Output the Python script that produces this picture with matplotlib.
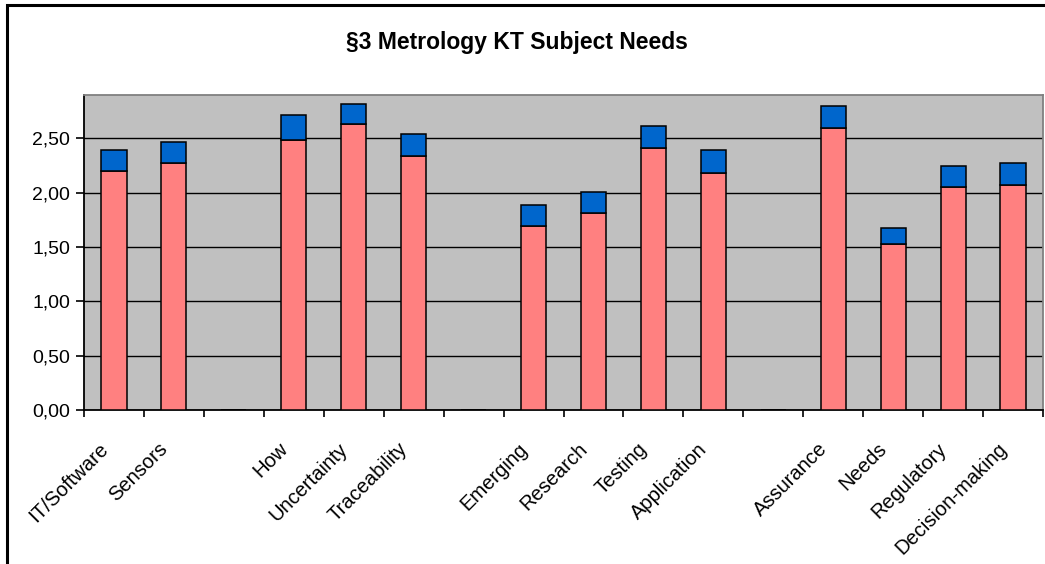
import matplotlib
matplotlib.use("Agg")
import matplotlib.pyplot as plt
import matplotlib.transforms as mtransforms
import numpy as np
from matplotlib.patches import Rectangle
from matplotlib.ticker import FuncFormatter, MultipleLocator

plt.rcParams['font.family'] = ['Liberation Sans', 'DejaVu Sans']

# Categories with empty slots between the subject groups
categories = ['IT/Software', 'Sensors', '',
              'How', 'Uncertainty', 'Traceability', '',
              'Emerging', 'Research', 'Testing', 'Application', '',
              'Assurance', 'Needs', 'Regulatory', 'Decision-making']
base_values = [2.20, 2.27, 0,
               2.49, 2.63, 2.34, 0,
               1.69, 1.81, 2.41, 2.18, 0,
               2.60, 1.53, 2.05, 2.07]
top_values = [0.19, 0.20, 0,
              0.23, 0.19, 0.20, 0,
              0.20, 0.20, 0.20, 0.21, 0,
              0.20, 0.15, 0.20, 0.20]

fig = plt.figure(figsize=(10.45, 5.64), dpi=100)
ax = fig.add_axes([84 / 1045, 1 - 410 / 564, 959 / 1045, 315 / 564])

# Chart frame (left and top edges visible)
fig.patches.append(Rectangle((7 / 1045, -0.1), 1.2, (564 - 5) / 564 + 0.1,
                             transform=fig.transFigure, fill=False,
                             edgecolor='black', linewidth=2.2, zorder=0))

x = np.arange(len(categories))
ax.set_facecolor('#C0C0C0')
ax.bar(x, base_values, width=0.42, color='#FF8080', edgecolor='black', linewidth=1.1, zorder=3)
ax.bar(x, top_values, width=0.42, bottom=base_values, color='#0066CC',
       edgecolor='black', linewidth=1.1, zorder=3)

ax.set_xlim(-0.5, len(categories) - 0.5)
ax.set_ylim(0, 2.9)
ax.yaxis.set_major_locator(MultipleLocator(0.5))
ax.yaxis.set_major_formatter(FuncFormatter(lambda v, p: f'{v:.2f}'.replace('.', ',')))
ax.grid(axis='y', color='black', linewidth=1.0, zorder=1)
ax.set_axisbelow(True)

ax.set_xticks(x)
ax.set_xticklabels(categories, rotation=45, ha='right', va='center',
                   rotation_mode='anchor', fontsize=14.5)
ax.set_xticks(np.arange(len(categories) + 1) - 0.5, minor=True)
ax.tick_params(axis='x', which='major', length=0, pad=26)
ax.tick_params(axis='x', which='minor', length=5, width=1.2, color='black', direction='out')
ax.tick_params(axis='y', length=6, width=1.2, pad=4, labelsize=14)

# nudge the slanted category labels to the left of their slot centres
shift = mtransforms.ScaledTranslation(-9 / 100, 0, fig.dpi_scale_trans)
for lbl in ax.get_xticklabels():
    lbl.set_transform(lbl.get_transform() + shift)

for side in ['left', 'bottom']:
    ax.spines[side].set_color('black')
    ax.spines[side].set_linewidth(1.3)
for side in ['top', 'right']:
    ax.spines[side].set_color('#808080')
    ax.spines[side].set_linewidth(1.3)

fig.text(517 / 1045, 1 - 43 / 564, '§3 Metrology KT Subject Needs',
         ha='center', va='center', fontsize=16.5, fontweight='bold')

fig.savefig('out.png', dpi=100)
